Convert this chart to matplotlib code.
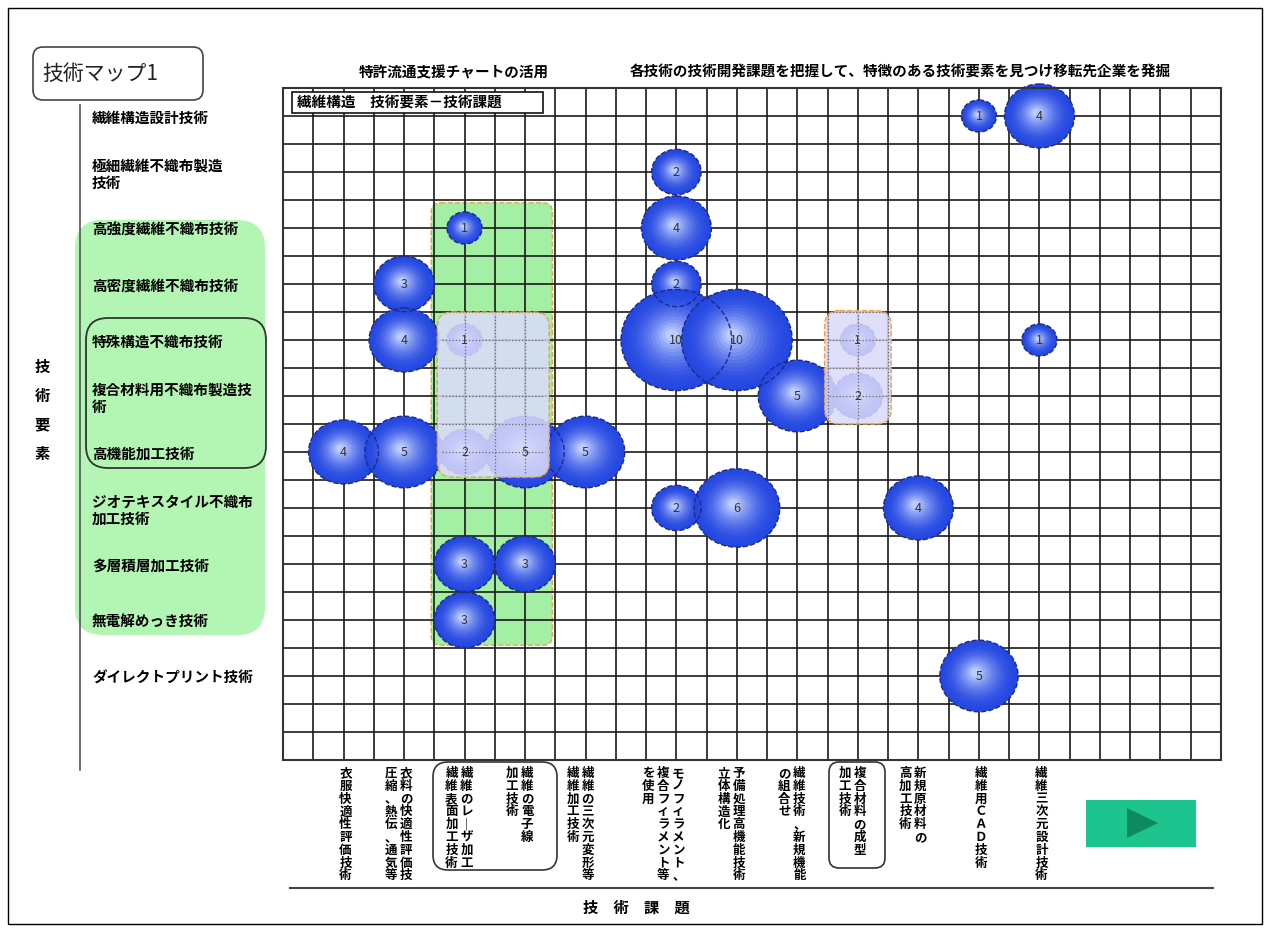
import numpy as np
import matplotlib.pyplot as plt
from matplotlib.patches import Ellipse, FancyBboxPatch, Rectangle, Polygon

plt.rcParams['font.family'] = ['Noto Sans CJK JP', 'DejaVu Sans']

# 技術要素 (rows, top to bottom)
row_labels = [
    "繊維構造設計技術",
    "極細繊維不織布製造\n技術",
    "高強度繊維不織布技術",
    "高密度繊維不織布技術",
    "特殊構造不織布技術",
    "複合材料用不織布製造技\n術",
    "高機能加工技術",
    "ジオテキスタイル不織布\n加工技術",
    "多層積層加工技術",
    "無電解めっき技術",
    "ダイレクトプリント技術",
]

# 技術課題 (columns), vertical text; "\n" separates the text columns, right to left
col_labels = [
    "衣服快適性評価技術",
    "衣料の快適性評価技\n圧縮、熱伝、通気等",
    "繊維のレーザ加工\n繊維表面加工技術",
    "繊維の電子線\n加工技術",
    "繊維の三次元変形等\n繊維加工技術",
    "モノフィラメント、\n複合フィラメント等\nを使用",
    "予備処理高機能技術\n立体構造化",
    "繊維技術、新規機能\nの組合せ",
    "複合材料の成型\n加工技術",
    "新規原材料の\n高加工技術",
    "繊維用ＣＡＤ技術",
    "繊維三次元設計技術",
]

# bubbles: row index, column index, number of patents
bub_row = [0, 0, 1, 2, 2, 3, 3, 4, 4, 4, 4, 4, 4, 5, 5, 6, 6, 6, 6, 6, 7, 7, 7, 8, 8, 9, 10]
bub_col = [10, 11, 5, 2, 5, 1, 5, 1, 2, 5, 6, 8, 11, 7, 8, 0, 1, 2, 3, 4, 5, 6, 9, 2, 3, 2, 10]
bub_val = [1, 4, 2, 1, 4, 3, 2, 4, 1, 10, 10, 1, 1, 5, 2, 4, 5, 2, 5, 5, 2, 6, 4, 3, 3, 3, 5]

# layout (pixels of the 1270x932 canvas)
W, H = 1270, 932
gl, gr, gt, gb = 283, 1221, 88, 760
ncols, nrows = 31, 24
col_pos = [2, 4, 6, 8, 10, 13, 15, 17, 19, 21, 23, 25]
row_pos = [1, 3, 5, 7, 9, 11, 13, 15, 17, 19, 21]
px_x = (gr - gl) / ncols
px_y = (gb - gt) / nrows
asp = px_x / px_y

fig = plt.figure(figsize=(12.7, 9.32), dpi=100)

bg = fig.add_axes([0, 0, 1, 1])
bg.set_xlim(0, W)
bg.set_ylim(H, 0)
bg.axis('off')

ax = fig.add_axes([gl / W, 1 - gb / H, (gr - gl) / W, (gb - gt) / H])
ax.set_facecolor('none')
ax.set_xlim(0, ncols)
ax.set_ylim(nrows, 0)
ax.set_xticks(np.arange(ncols + 1), minor=True)
ax.set_yticks(np.arange(nrows + 1), minor=True)
ax.set_xticks(col_pos)
ax.set_xticklabels([])
ax.set_yticks(row_pos)
ax.set_yticklabels(row_labels, fontsize=10.5, fontweight='bold', linespacing=1.1)
for lbl in ax.get_yticklabels():
    lbl.set_horizontalalignment('left')
ax.tick_params(axis='both', which='both', length=0)
ax.tick_params(axis='y', which='major', pad=(gl - 92) * 0.72)
ax.set_axisbelow(True)
ax.grid(True, which='both', color='#1a1a1a', lw=1.2)
for s in ax.spines.values():
    s.set_color('#333333')
    s.set_linewidth(1.5)

# green highlight column
ax.add_patch(FancyBboxPatch((4.9, 4.1), 4.0, 15.8, boxstyle='round,pad=0,rounding_size=0.3',
                            mutation_aspect=asp, fc='#a3efa3', ec='#f0a040', ls='--', lw=1, zorder=0.3))

# bubbles with a radial shading
outer = np.array([0.14, 0.28, 0.88])
inner = np.array([0.74, 0.80, 1.0])
for r, c, v in zip(bub_row, bub_col, bub_val):
    x, y = col_pos[c], row_pos[r]
    rx = 17.5 * np.sqrt(v) / px_x
    ry = 16.0 * np.sqrt(v) / px_y
    n = 14
    for i in range(n):
        t = i / (n - 1)
        s = 1 - 0.88 * t
        col = outer + (inner - outer) * t ** 1.8
        ax.add_patch(Ellipse((x - 0.08 * rx * t, y - 0.1 * ry * t), 2 * rx * s, 2 * ry * s,
                             fc=col, ec='none', zorder=2, clip_on=False))
    ax.add_patch(Ellipse((x, y), 2 * rx, 2 * ry, fc='none', ec='#1c2a8c', ls='--', lw=1,
                         zorder=2.1, clip_on=False))
    ax.text(x, y, str(v), ha='center', va='center', fontsize=9, color='#333333', zorder=5)

# lavender highlight boxes over the grid
for x0, x1, y0, y1 in [(5.1, 8.8, 8.0, 13.9), (17.9, 20.1, 7.95, 12.0)]:
    ax.add_patch(FancyBboxPatch((x0, y0), x1 - x0, y1 - y0, boxstyle='round,pad=0,rounding_size=0.5',
                                mutation_aspect=asp, fc='#dadafa', alpha=0.86, ec='none', zorder=4))
    ax.add_patch(FancyBboxPatch((x0, y0), x1 - x0, y1 - y0, boxstyle='round,pad=0,rounding_size=0.5',
                                mutation_aspect=asp, fc='none', ec='#f0a040', ls='--', lw=1, zorder=4.3))
    for gx in range(int(np.ceil(x0)), int(np.floor(x1)) + 1):
        ax.plot([gx, gx], [y0 + 0.15, y1 - 0.15], ls=':', color='#666666', lw=0.9, zorder=4.2)
    for gy in range(int(np.ceil(y0)), int(np.floor(y1)) + 1):
        ax.plot([x0 + 0.15, x1 - 0.15], [gy, gy], ls=':', color='#666666', lw=0.9, zorder=4.2)

# label box inside the grid
ax.add_patch(Rectangle((0.3, 0.15), 8.3, 0.75, fc='white', ec='#111111', lw=1.2, zorder=6))
ax.text(0.46, 0.53, "繊維構造　技術要素－技術課題", ha='left', va='center', fontsize=10.5,
        fontweight='bold', zorder=7)

# vertical column labels
for p, lab in zip(col_pos, col_labels):
    for j, part in enumerate(lab.split('\n')):
        s = '\n'.join(part.replace('ー', '｜'))
        ax.annotate(s, xy=(p, 0), xycoords=('data', 'axes fraction'),
                    xytext=((2 - 15 * j) * 0.72, -7 * 0.72), textcoords='offset points',
                    ha='center', va='top', fontsize=9, fontweight='bold', linespacing=0.98)

# decorations on the page
bg.add_patch(Rectangle((8, 8), W - 16, H - 16, fill=False, ec='black', lw=1))
bg.add_patch(FancyBboxPatch((33, 47), 170, 53, boxstyle='round,pad=0,rounding_size=10',
                            fc='white', ec='#444444', lw=1.2))
bg.text(42, 74, "技術マップ1", ha='left', va='center', fontsize=15, color='#222222')
bg.plot([80, 80], [105, 770], color='#555555', lw=1.2)
bg.add_patch(FancyBboxPatch((75, 220), 190, 415, boxstyle='round,pad=0,rounding_size=28',
                            fc='#b3f5b3', ec='none', zorder=0))
bg.add_patch(FancyBboxPatch((86, 318), 180, 150, boxstyle='round,pad=0,rounding_size=22',
                            fc='none', ec='#333333', lw=1.3))
bg.text(42, 410, "技\n術\n要\n素", ha='center', va='center', fontsize=11, fontweight='bold',
        linespacing=2.0)
bg.text(454, 72, "特許流通支援チャートの活用", ha='center', va='center', fontsize=10.5, fontweight='bold')
bg.text(900, 72, "各技術の技術開発課題を把握して、特徴のある技術要素を見つけ移転先企業を発掘",
        ha='center', va='center', fontsize=10.5, fontweight='bold')
bg.add_patch(FancyBboxPatch((433, 762), 124, 108, boxstyle='round,pad=0,rounding_size=15',
                            fc='none', ec='#333333', lw=1.2))
bg.add_patch(FancyBboxPatch((829, 762), 56, 106, boxstyle='round,pad=0,rounding_size=10',
                            fc='none', ec='#333333', lw=1.2))
bg.plot([290, 1213], [888, 888], color='#444444', lw=1.5)
bg.text(636, 908, "技　術　課　題", ha='center', va='center', fontsize=11, fontweight='bold')
bg.add_patch(Rectangle((1086, 800), 110, 47, fc='#1ec48e', ec='none'))
bg.add_patch(Polygon([(1127, 808), (1127, 838), (1158, 823)], closed=True, fc='#0e8a5e', ec='none'))

fig.savefig('out.png', dpi=100)
